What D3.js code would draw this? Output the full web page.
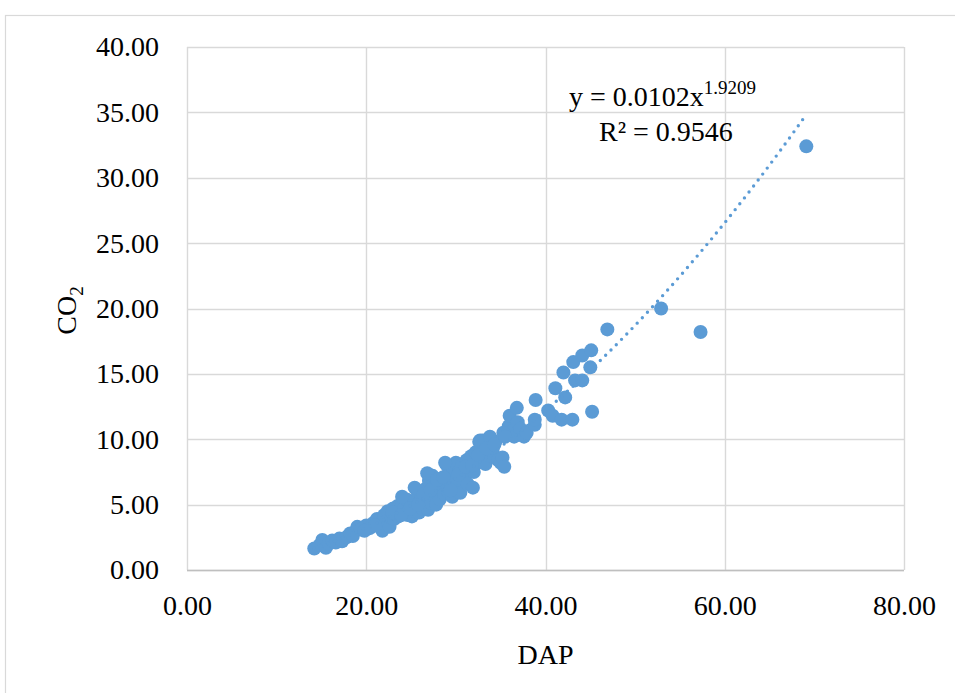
<!DOCTYPE html>
<html><head><meta charset="utf-8">
<script src="https://cdn.jsdelivr.net/npm/d3@7"></script>
<style>
html,body{margin:0;padding:0;background:#fff;}
svg{display:block;}
svg text{font-family:"Liberation Serif","Times New Roman",serif !important;}
</style></head>
<body><svg id="c" width="955" height="693"></svg>
<script>
const xTicks = [0, 20, 40, 60, 80];
const yTicks = [0, 5, 10, 15, 20, 25, 30, 35, 40];
const xLabel = "DAP";
const yLabel = "CO";
const fitA = 0.0102, fitB = 1.9209;
const eqText = "y = 0.0102x";
const eqExp = "1.9209";
const r2Text = "R² = 0.9546";

const dap = [14.2,14.8,15.1,15.5,15.8,16.2,16.6,17.0,17.3,17.8,18.2,18.5,19.0,19.4,20.0,20.4,20.8,21.2,21.5,21.8,
22.0,22.2,22.4,22.6,22.8,23.0,23.1,23.3,23.5,23.6,23.8,24.0,24.1,24.3,24.5,24.6,24.8,25.0,25.1,25.3,
25.4,25.6,25.7,25.9,26.0,26.2,26.3,26.5,26.6,26.8,26.9,27.0,27.1,27.3,27.4,27.5,27.7,27.8,28.0,28.1,
28.2,28.4,28.5,28.7,28.8,29.0,29.0,29.2,29.3,29.5,29.6,29.7,29.9,30.0,30.1,30.2,30.4,30.5,30.7,30.8,
31.0,31.2,31.3,31.5,31.7,31.9,32.0,32.2,32.4,32.6,32.8,33.0,33.1,33.3,33.5,33.7,33.9,34.1,34.4,34.7,
35.0,35.2,35.4,35.7,35.9,36.0,36.2,36.5,36.8,36.9,37.2,37.6,37.9,38.8,38.8,38.9,40.3,40.8,41.1,41.8,
42.0,42.2,43.0,43.3,43.1,44.1,44.1,45.0,45.1,45.2,46.9,52.9,57.3,69.1,24.0,25.4,26.8,28.8,32.7,33.8,35.3,
22.9,23.9,24.9,25.8,26.4,27.2,27.9,28.6,29.4,30.3,31.1,31.8,32.5,33.4,34.3,35.5,21.0,19.8];
const co2 = [1.65,1.9,2.3,1.7,2.0,2.25,2.1,2.4,2.2,2.5,2.8,2.6,3.3,3.1,3.4,3.2,3.6,3.9,3.5,3.0,
4.2,3.7,4.5,3.3,4.0,4.7,3.9,4.3,4.9,4.1,4.6,5.1,4.4,4.8,5.4,4.2,4.6,5.0,4.1,4.5,
5.3,4.8,6.0,4.4,5.2,5.6,4.7,5.0,6.2,5.4,4.6,6.8,5.8,5.1,7.2,6.3,5.6,5.0,6.0,6.6,
5.4,7.0,6.2,5.8,6.8,8.0,6.4,5.9,7.3,6.7,5.6,7.8,6.1,8.2,7.0,6.5,7.6,5.9,8.0,6.8,
7.3,8.4,6.6,7.8,8.7,6.3,7.5,9.0,8.2,9.8,8.6,9.9,8.9,8.1,9.4,9.9,8.7,9.1,9.8,8.4,
8.2,8.6,7.9,10.5,11.0,11.8,10.6,10.2,12.4,11.3,10.8,10.2,10.5,11.1,11.5,13.0,12.2,11.8,13.9,11.5,
15.1,13.2,11.5,14.5,15.9,14.5,16.4,15.5,16.8,12.1,18.4,20.0,18.2,32.4,5.6,6.3,7.4,8.2,9.9,10.2,10.5,
4.4,4.2,4.7,5.0,5.8,6.1,6.9,7.1,6.1,7.3,7.9,8.0,8.8,9.3,9.6,10.2,3.4,3.0];

const svg = d3.select("#c");
const W = 955, H = 693;
const L = 187, R = 904, T = 47, B = 570;
const x = d3.scaleLinear().domain([0, 80]).range([L, R]);
const y = d3.scaleLinear().domain([0, 40]).range([B, T]);
const grid = "#D9D9D9";

svg.append("rect").attr("x", 5.5).attr("y", 15.5).attr("width", W + 10).attr("height", H + 10)
  .attr("fill", "none").attr("stroke", grid).attr("stroke-width", 1.2);

svg.append("g").selectAll("line").data(yTicks).join("line")
  .attr("x1", L).attr("x2", R).attr("y1", d => Math.round(y(d)) + 0.5).attr("y2", d => Math.round(y(d)) + 0.5)
  .attr("stroke", grid).attr("stroke-width", 1.4);
svg.append("g").selectAll("line").data(xTicks).join("line")
  .attr("y1", T).attr("y2", B).attr("x1", d => Math.round(x(d)) + 0.5).attr("x2", d => Math.round(x(d)) + 0.5)
  .attr("stroke", grid).attr("stroke-width", 1.4);
svg.append("line").attr("x1", L).attr("x2", R).attr("y1", B + 0.5).attr("y2", B + 0.5)
  .attr("stroke", "#BFBFBF").attr("stroke-width", 1.4);

const fmt = d3.format(".2f");
const xAxis = svg.append("g").attr("transform", `translate(0,${B})`)
  .call(d3.axisBottom(x).tickValues(xTicks).tickFormat(fmt).tickSize(0).tickPadding(35));
const yAxis = svg.append("g").attr("transform", `translate(${L},0)`)
  .call(d3.axisLeft(y).tickValues(yTicks).tickFormat(fmt).tickSize(0).tickPadding(28));
[xAxis, yAxis].forEach(g => {
  g.select(".domain").remove();
  g.attr("font-family", null).attr("font-size", null);
  g.selectAll("text").style("font-size", "28px").attr("fill", "#000");
});
xAxis.selectAll("text").attr("dy", "0.35em");

svg.append("text").attr("x", x(40)).attr("y", 664).attr("text-anchor", "middle")
  .style("font-size", "28px").attr("fill", "#000").text(xLabel);
const yt = svg.append("text").attr("transform", `translate(76,${(T + B) / 2 + 2}) rotate(-90)`)
  .attr("text-anchor", "middle").style("font-size", "28px").attr("fill", "#000");
yt.append("tspan").text(yLabel);
yt.append("tspan").style("font-size", "19px").attr("dy", 7).text("2");

svg.append("g").selectAll("circle").data(dap.map((d, i) => [d, co2[i]])).join("circle")
  .attr("cx", d => x(d[0])).attr("cy", d => y(d[1])).attr("r", 7)
  .attr("fill", "#5B9BD5");

const xmin = d3.min(dap), xmax = d3.max(dap);
const trend = d3.range(0, 201).map(i => {
  const xv = xmin + (xmax - xmin) * i / 200;
  return [xv, fitA * Math.pow(xv, fitB)];
});
svg.append("path").datum(trend)
  .attr("d", d3.line().x(d => x(d[0])).y(d => y(d[1])))
  .attr("fill", "none").attr("stroke", "#5B9BD5").attr("stroke-width", 3.4)
  .attr("stroke-linecap", "round").attr("stroke-dasharray", "0,7.5");

const eq = svg.append("text").attr("x", 569).attr("y", 106).style("font-size", "28px").attr("fill", "#000");
eq.append("tspan").text(eqText);
eq.append("tspan").style("font-size", "19px").attr("dy", -12).text(eqExp);
svg.append("text").attr("x", 599).attr("y", 141).style("font-size", "28px").attr("fill", "#000").text(r2Text);
</script></body></html>
